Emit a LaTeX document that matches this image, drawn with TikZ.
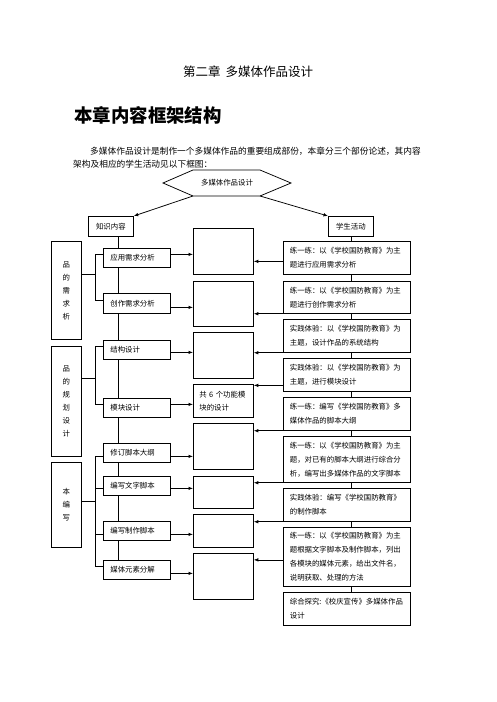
\documentclass[tikz,border=0pt]{standalone}
\usepackage{fontspec}
\setmainfont{Noto Sans CJK SC}
\usetikzlibrary{arrows.meta}
\newcommand{\fd}{\fontsize{7.4pt}{13pt}\selectfont}
\newcommand{\fr}{\fontsize{7.4pt}{14pt}\selectfont}
\begin{document}
\begin{tikzpicture}[x=1pt,y=-1pt,
  ln/.style={line width=0.75pt},
  arr/.style={ln,-{Latex[length=4.5pt,width=3.5pt]}},
  bx/.style={draw,ln,anchor=north west,inner ysep=0pt},
  hbox/.style={bx,minimum width=45pt,minimum height=20pt,inner xsep=0pt,font=\fd},
  lbox/.style={bx,minimum width=67pt,minimum height=19pt,inner xsep=7pt,text width=53pt,align=left,font=\fd},
  bigbox/.style={bx,minimum width=30pt,inner xsep=0pt,align=center,font=\fd},
  mbox/.style={bx,minimum width=60pt,inner xsep=6pt,text width=48pt,align=left,font=\fd},
  rbox/.style={bx,minimum width=127pt,inner xsep=6.5pt,text width=114pt,align=left,font=\fr}]
\useasboundingbox (0,0) rectangle (496,702);

% headings
\node[font=\fontsize{12.5pt}{14pt}\selectfont] (title) at (248,72) {第二章\hspace{5pt}多媒体作品设计};
\node[anchor=west,font=\fontsize{18.4pt}{20pt}\selectfont\bfseries] (head) at (71,115) {本章内容框架结构};
\node[anchor=west,inner sep=0pt,font=\fontsize{8.7pt}{10pt}\selectfont] (p1) at (90,151) {多媒体作品设计是制作一个多媒体作品的重要组成部份，本章分三个部份论述，其内容};
\node[anchor=west,inner sep=0pt,font=\fontsize{8.7pt}{10pt}\selectfont] (p2) at (73,164) {架构及相应的学生活动见以下框图：};

% hexagon
\coordinate (hl) at (163,183);
\coordinate (htl) at (193,170);
\coordinate (htr) at (260,170);
\coordinate (hr) at (291,183);
\coordinate (hbr) at (260,196);
\coordinate (hbl) at (193,196);
\draw[ln] (hl) -- (htl) -- (htr) -- (hr) -- (hbr) -- (hbl) -- cycle;
\node[font=\fd] (hex) at (227,183) {多媒体作品设计};

% header boxes
\node[hbox] (k) at (88,216) {知识内容};
\node[hbox] (s) at (328,216) {学生活动};
\draw[arr] (hbl) -- (k.north east);
\draw[arr] (hbr) -- (s.north west);

% left big boxes
\node[bigbox,minimum height=98pt] (L1) at (51,241) {品\\的\\需\\求\\析};
\node[bigbox,minimum height=110pt] (L2) at (51,346) {品\\的\\规\\划\\设\\计};
\node[bigbox,minimum height=85pt] (L3) at (51,462) {本\\编\\写};

% knowledge boxes
\node[lbox] (a1) at (103,248) {应用需求分析};
\node[lbox,minimum height=20pt] (a2) at (103,293) {创作需求分析};
\node[lbox] (a3) at (103,340) {结构设计};
\node[lbox] (a4) at (103,398) {模块设计};
\node[lbox] (a5) at (103,443) {修订脚本大纲};
\node[lbox] (a6) at (103,476) {编写文字脚本};
\node[lbox] (a7) at (103,521) {编写制作脚本};
\node[lbox] (a8) at (103,560) {媒体元素分解};

% middle boxes
\node[mbox,minimum height=46pt] (m1) at (193,228) {};
\node[mbox,minimum height=45pt] (m2) at (193,281) {};
\node[mbox,minimum height=46pt] (m3) at (193,332) {};
\node[mbox,minimum height=33pt] (m4) at (193,384) {共 6 个功能模\\块的设计};
\node[mbox,minimum height=46pt] (m5) at (193,423) {};
\node[mbox,minimum height=32pt] (m6) at (193,476) {};
\node[mbox,minimum height=33pt] (m7) at (193,514) {};
\node[mbox,minimum height=46pt] (m8) at (193,553) {};

% right boxes
\node[rbox,minimum height=33pt] (r1) at (283,241) {练一练：以《学校国防教育》为主\\题进行应用需求分析};
\node[rbox,minimum height=32pt] (r2) at (283,281) {练一练：以《学校国防教育》为主\\题进行创作需求分析};
\node[rbox,minimum height=33pt] (r3) at (283,319) {实践体验：以《学校国防教育》为\\主题，设计作品的系统结构};
\node[rbox,minimum height=33pt] (r4) at (283,358) {实践体验：以《学校国防教育》为\\主题，进行模块设计};
\node[rbox,minimum height=33pt] (r5) at (283,397) {练一练：编写《学校国防教育》多\\媒体作品的脚本大纲};
\node[rbox,minimum height=46pt] (r6) at (283,436) {练一练：以《学校国防教育》为主\\题，对已有的脚本大纲进行综合分\\析，编写出多媒体作品的文字脚本};
\node[rbox,minimum height=33pt] (r7) at (283,488) {实践体验：编写《学校国防教育》\\的制作脚本};
\node[rbox,minimum height=59pt] (r8) at (283,527) {练一练：以《学校国防教育》为主\\题根据文字脚本及制作脚本，列出\\各模块的媒体元素，给出文件名，\\说明获取、处理的方法};
\node[rbox,minimum height=33pt] (r9) at (283,592) {综合探究:《校庆宣传》多媒体作品\\设计};

% vertical chain in knowledge column
\draw[ln] ([xshift=15pt]a1.north west) -- ([xshift=15pt]a1.north west |- k.south);
\draw[ln] ([xshift=15pt]a1.south west) -- ([xshift=15pt]a2.north west);
\draw[ln] ([xshift=15pt]a2.south west) -- ([xshift=15pt]a3.north west);
\draw[ln] ([xshift=15pt]a3.south west) -- ([xshift=15pt]a4.north west);
\draw[ln] ([xshift=15pt]a4.south west) -- ([xshift=15pt]a5.north west);
\draw[ln] ([xshift=15pt]a5.south west) -- ([xshift=15pt]a6.north west);
\draw[ln] ([xshift=15pt]a6.south west) -- ([xshift=15pt]a7.north west);
\draw[ln] ([xshift=15pt]a7.south west) -- ([xshift=15pt]a8.north west);

% vertical chain in activity column
\draw[ln] (s.south) -- (s.south |- r1.north);
\draw[ln] (r1.south -| s.south) -- (r2.north -| s.south);
\draw[ln] (r2.south -| s.south) -- (r3.north -| s.south);
\draw[ln] (r3.south -| s.south) -- (r4.north -| s.south);
\draw[ln] (r4.south -| s.south) -- (r5.north -| s.south);
\draw[ln] (r5.south -| s.south) -- (r6.north -| s.south);
\draw[ln] (r6.south -| s.south) -- (r7.north -| s.south);
\draw[ln] (r7.south -| s.south) -- (r8.north -| s.south);
\draw[ln] (r8.south -| s.south) -- (r9.north -| s.south);

% brackets
\draw[ln] ([yshift=16pt]L1.east) -- ++(14pt,0);
\draw[ln] ([yshift=3.5pt]a1.west) -- ++(-8pt,0) |- ([yshift=3pt]a2.west);
\draw[ln] ([yshift=23pt]L2.east) -- ++(14pt,0);
\draw[ln] ([yshift=3.5pt]a3.west) -- ++(-8pt,0) |- ([yshift=3.5pt]a4.west);
\draw[ln] ([yshift=3.5pt]L3.east) -- ++(14pt,0);
\draw[ln] ([yshift=-3.5pt]a5.west) -- ++(-8pt,0) |- ([yshift=3.5pt]a8.west);
\draw[ln] ([yshift=-2.5pt]a6.west) -- ++(-8pt,0);
\draw[ln] ([yshift=-3.5pt]a7.west) -- ++(-8pt,0);

% arrows knowledge -> middle
\draw[arr] ([yshift=3.5pt]a1.east) -- ([yshift=3.5pt]a1.east -| m1.west);
\draw[arr] ([yshift=-4pt]a2.east) -- ([yshift=-4pt]a2.east -| m2.west);
\draw[arr] ([yshift=-2.5pt]a3.east) -- ([yshift=-2.5pt]a3.east -| m3.west);
\draw[arr] ([yshift=3.5pt]a4.east) -- ([yshift=3.5pt]a4.east -| m4.west);
\draw[arr] ([yshift=-3.5pt]a5.east) -- ([yshift=-3.5pt]a5.east -| m5.west);
\draw[arr] ([yshift=-2.5pt]a6.east) -- ([yshift=-2.5pt]a6.east -| m6.west);
\draw[arr] ([yshift=-3.5pt]a7.east) -- ([yshift=-3.5pt]a7.east -| m7.west);
\draw[arr] ([yshift=-3.5pt]a8.east) -- ([yshift=-3.5pt]a8.east -| m8.west);

% arrows activity -> middle
\draw[arr] ([yshift=-3.5pt]r1.west) -- ([yshift=-3.5pt]r1.west -| m1.east);
\draw[arr] (r2.south west) -- (r2.south west -| m2.east);
\draw[arr] (r3.south west) -- (r3.south west -| m3.east);
\draw[arr] ([yshift=-10.5pt]r4.west) -- ([yshift=-10.5pt]r4.west -| m4.east);
\draw[arr] (r5.south west) -- (r5.south west -| m5.east);
\draw[arr] (r6.south west) -- (r6.south west -| m6.east);
\draw[arr] (r7.south west) -- (r7.south west -| m7.east);
\draw[arr] ([yshift=-3pt]r8.west) -- ([yshift=-3pt]r8.west -| m8.east);
\end{tikzpicture}
\end{document}
